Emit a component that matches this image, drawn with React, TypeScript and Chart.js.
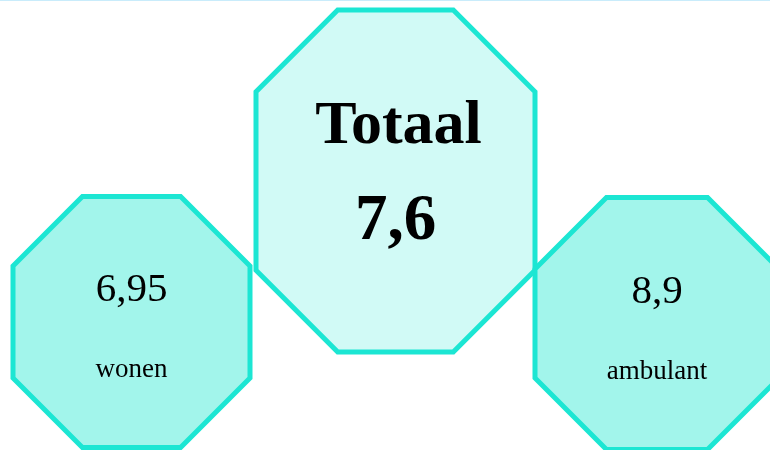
import React, { useEffect, useRef } from "react";
import { Chart, registerables } from "chart.js";

Chart.register(...registerables);

// Data
const categories: string[] = ["wonen", "Totaal", "ambulant"];
const scores: number[] = [6.95, 7.6, 8.9];
const highlight: boolean[] = [false, true, false];

// Layout (pixel-like data units on hidden linear scales)
const centersX: number[] = [131.5, 395.5, 657];
const centersY: number[] = [322, 181, 323.5];
const halfW: number[] = [118.5, 139.5, 122];
const halfH: number[] = [125.5, 171, 126];

const STROKE = "#1ce6d3";
const FILL_SIDE = "#a2f5eb";
const FILL_MAIN = "#d1faf6";
const FONT = "'Liberation Serif', 'Times New Roman', serif";

const fmt = (v: number) => String(v).replace(".", ",");

const octagonPlugin = {
  id: "octagons",
  beforeDatasetsDraw(chart: any) {
    const ctx: CanvasRenderingContext2D = chart.ctx;
    const xs = chart.scales.x;
    const ys = chart.scales.y;
    // top thin line
    ctx.save();
    ctx.strokeStyle = "#c9ecfb";
    ctx.lineWidth = 1;
    ctx.beginPath();
    ctx.moveTo(0, 0.5);
    ctx.lineTo(chart.width, 0.5);
    ctx.stroke();
    ctx.restore();

    const meta = chart.getDatasetMeta(0);
    const order = [1, 0, 2];
    order.forEach((i) => {
      const el = meta.data[i];
      const cx = el.x;
      const cy = el.y;
      const a = Math.abs(xs.getPixelForValue(centersX[i] + halfW[i]) - cx);
      const b = Math.abs(ys.getPixelForValue(centersY[i] + halfH[i]) - cy);
      const c = a * (2 - Math.SQRT2);
      const cut = c * 1; // 45 degree corners
      ctx.save();
      ctx.beginPath();
      ctx.moveTo(cx - a + cut, cy - b);
      ctx.lineTo(cx + a - cut, cy - b);
      ctx.lineTo(cx + a, cy - b + cut);
      ctx.lineTo(cx + a, cy + b - cut);
      ctx.lineTo(cx + a - cut, cy + b);
      ctx.lineTo(cx - a + cut, cy + b);
      ctx.lineTo(cx - a, cy + b - cut);
      ctx.lineTo(cx - a, cy - b + cut);
      ctx.closePath();
      ctx.fillStyle = highlight[i] ? FILL_MAIN : FILL_SIDE;
      ctx.fill();
      ctx.lineWidth = 5;
      ctx.lineJoin = "miter";
      ctx.strokeStyle = STROKE;
      ctx.stroke();
      ctx.restore();
    });

    // text
    order.forEach((i) => {
      const el = meta.data[i];
      const cx = el.x;
      const cy = el.y;
      ctx.save();
      ctx.fillStyle = "#000";
      ctx.textAlign = "center";
      ctx.textBaseline = "alphabetic";
      if (highlight[i]) {
        ctx.font = `bold 62px ${FONT}`;
        ctx.fillText(categories[i], cx + 3, cy - 38);
        ctx.font = `bold 65px ${FONT}`;
        ctx.fillText(fmt(scores[i]), cx, cy + 58);
      } else {
        ctx.font = `41px ${FONT}`;
        ctx.fillText(fmt(scores[i]), cx, cy - 21);
        ctx.font = `27px ${FONT}`;
        ctx.fillText(categories[i], cx, cy + 55);
      }
      ctx.restore();
    });
  },
};

export default function App() {
  const ref = useRef<HTMLCanvasElement | null>(null);
  useEffect(() => {
    document.body.style.margin = "0";
    if (!ref.current) return;
    const chart = new Chart(ref.current, {
      type: "scatter",
      data: {
        labels: categories,
        datasets: [
          {
            label: "score",
            data: centersX.map((x, i) => ({ x, y: centersY[i] })),
            pointRadius: 0,
            pointHoverRadius: 0,
          },
        ],
      },
      options: {
        responsive: false,
        animation: false,
        layout: { padding: 0 },
        plugins: { legend: { display: false }, tooltip: { enabled: false } },
        scales: {
          x: { type: "linear", min: 0, max: 770, display: false },
          y: { type: "linear", min: 0, max: 450, reverse: true, display: false },
        },
      },
      plugins: [octagonPlugin],
    });
    return () => chart.destroy();
  }, []);
  return (
    <div style={{ width: 770, height: 450 }}>
      <canvas ref={ref} width={770} height={450} style={{ display: "block" }} />
    </div>
  );
}
